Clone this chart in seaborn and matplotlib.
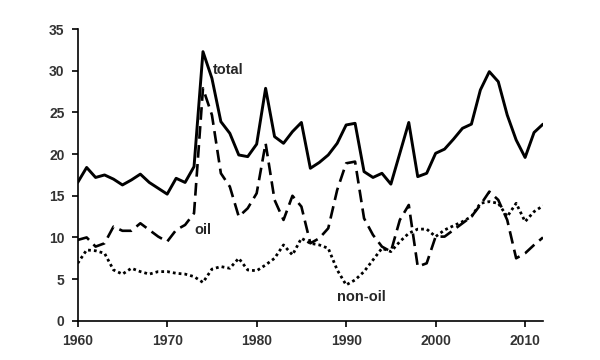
import numpy as np
import pandas as pd
import matplotlib
matplotlib.use("Agg")
import matplotlib.pyplot as plt
import seaborn as sns

years = list(range(1960, 2013))
total = [16.6, 18.4, 17.2, 17.5, 17.0, 16.3, 16.9, 17.6, 16.6, 15.9,
         15.2, 17.1, 16.6, 18.5, 32.3, 29.1, 23.9, 22.5, 19.9, 19.7,
         21.2, 27.9, 22.1, 21.3, 22.7, 23.8, 18.3, 19.0, 19.9, 21.3,
         23.5, 23.7, 17.9, 17.2, 17.7, 16.4, 20.1, 23.8, 17.3, 17.7,
         20.1, 20.6, 21.8, 23.1, 23.6, 27.7, 29.9, 28.7, 24.7, 21.7,
         19.6, 22.6, 23.6]
oil = [9.7, 10.0, 8.9, 9.3, 11.3, 10.8, 10.8, 11.7, 10.9, 10.1,
       9.5, 10.9, 11.5, 12.9, 27.9, 24.7, 17.7, 16.1, 12.5, 13.5,
       15.3, 21.3, 14.5, 12.1, 15.0, 13.7, 9.3, 9.9, 11.1, 15.7,
       18.9, 19.1, 12.3, 10.3, 8.9, 8.3, 12.1, 13.9, 6.5, 6.9,
       10.1, 10.1, 10.9, 11.7, 12.5, 13.9, 15.5, 14.5, 12.1, 7.5,
       8.1, 9.1, 10.0]
nonoil = [6.9, 8.5, 8.4, 8.1, 6.1, 5.6, 6.3, 5.9, 5.6, 5.9,
          5.9, 5.7, 5.6, 5.3, 4.6, 6.2, 6.5, 6.3, 7.5, 6.1,
          6.0, 6.7, 7.5, 9.1, 7.9, 9.9, 9.3, 9.1, 8.7, 6.1,
          4.3, 4.9, 5.9, 7.3, 8.7, 8.3, 9.5, 10.5, 11.0, 11.0,
          10.1, 10.9, 11.4, 11.9, 12.5, 14.1, 14.3, 14.1, 12.5, 14.1,
          11.9, 13.1, 13.8]

df = pd.DataFrame({"year": years, "total": total, "oil": oil, "non-oil": nonoil})

sns.set_theme(style="ticks")
plt.rcParams["font.family"] = ["Liberation Sans", "DejaVu Sans"]

fig = plt.figure(figsize=(6, 3.6), dpi=100)
ax = fig.add_axes([0.1295, 0.109, 0.7755, 0.81])

sns.lineplot(data=df, x="year", y="total", color="black", lw=2.1, ax=ax)
sns.lineplot(data=df, x="year", y="oil", color="black", lw=1.9, ax=ax).lines[-1].set_dashes([4.8, 2.4])
sns.lineplot(data=df, x="year", y="non-oil", color="black", lw=2.0, ax=ax).lines[-1].set_dashes([1, 1.1])

ax.text(1975.1, 30.1, "total", fontsize=10.5, fontweight="bold", va="center", ha="left")
ax.text(1973.0, 10.9, "oil", fontsize=10.5, fontweight="bold", va="center", ha="left")
ax.text(1989.0, 2.8, "non-oil", fontsize=10.5, fontweight="bold", va="center", ha="left")

ax.set_xlim(1960, 2012)
ax.set_ylim(0, 35)
ax.set_xticks([1960, 1970, 1980, 1990, 2000, 2010])
ax.set_yticks(range(0, 36, 5))
ax.set_xlabel("")
ax.set_ylabel("")
ax.tick_params(labelsize=10, labelcolor="#333333", color="black", length=4.5, width=1.2, pad=5)
for lab in ax.get_xticklabels() + ax.get_yticklabels():
    lab.set_fontweight("bold")
for s in ["left", "bottom"]:
    ax.spines[s].set_color("black")
    ax.spines[s].set_linewidth(1.2)
sns.despine(ax=ax)

fig.savefig("out.png", dpi=100)
